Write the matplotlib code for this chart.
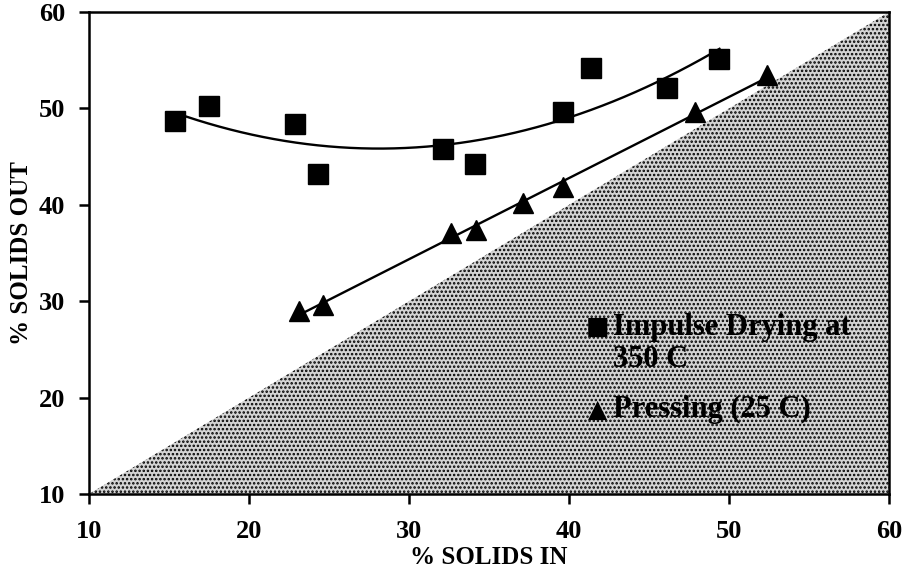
import numpy as np
import matplotlib
matplotlib.use("Agg")
import matplotlib.pyplot as plt

# Data
impulse_x = [15.4, 17.5, 22.9, 24.3, 32.1, 34.1, 39.6, 41.4, 46.1, 49.4]
impulse_y = [48.7, 50.2, 48.4, 43.2, 45.8, 44.2, 49.6, 54.2, 52.1, 55.1]
press_x = [23.1, 24.6, 32.6, 34.2, 37.1, 39.6, 47.9, 52.4]
press_y = [29.0, 29.6, 37.1, 37.4, 40.2, 41.8, 49.6, 53.5]
xticks = [10, 20, 30, 40, 50, 60]
yticks = [10, 20, 30, 40, 50, 60]

serif = ["Liberation Serif", "DejaVu Serif"]
plt.rcParams["font.family"] = serif
plt.rcParams["font.weight"] = "bold"
plt.rcParams["hatch.linewidth"] = 1.2
plt.rcParams["hatch.color"] = "black"

fig = plt.figure(figsize=(9.03, 5.79), dpi=100)
ax = fig.add_axes([0.0986, 0.1468, 0.886, 0.8325])
ax.set_xlim(10, 60)
ax.set_ylim(10, 60)

# shaded region below the y = x line
diag = np.array([10, 60])
ax.fill_between(diag, 10, diag, facecolor="#d4d4d4", edgecolor="black",
                hatch="....", linewidth=0, zorder=0)

# quadratic fit through impulse drying data
c2 = np.polyfit(impulse_x, impulse_y, 2)
xs = np.linspace(min(impulse_x), max(impulse_x), 200)
ax.plot(xs, np.polyval(c2, xs), color="black", lw=1.7, zorder=2)

# linear fit through pressing data
c1 = np.polyfit(press_x, press_y, 1)
xl = np.linspace(min(press_x), max(press_x), 50)
ax.plot(xl, np.polyval(c1, xl), color="black", lw=1.7, zorder=2)

ax.plot(impulse_x, impulse_y, "s", color="black", ms=14, zorder=3)
ax.plot(press_x, press_y, "^", color="black", ms=14, zorder=3)

for s in ax.spines.values():
    s.set_linewidth(1.8)
ax.set_xticks(xticks)
ax.set_yticks(yticks)
ax.tick_params(direction="out", length=7, width=1.8, labelsize=19)
ax.tick_params(axis="x", pad=12)
ax.tick_params(axis="y", pad=10)
for lab in ax.get_xticklabels() + ax.get_yticklabels():
    lab.set_fontweight("bold")

ax.set_xlabel("% SOLIDS IN", fontsize=18, fontweight="bold", labelpad=2)
ax.set_ylabel("% SOLIDS OUT", fontsize=18, fontweight="bold", labelpad=4)

fam = ["Liberation Serif", "DejaVu Sans"]
ax.text(41.8, 26.6, "■", fontsize=18, family="DejaVu Sans", ha="center", va="baseline")
ax.text(42.75, 26.5, "Impulse Drying at", fontsize=22, fontweight="bold",
        family=fam, ha="left", va="baseline")
ax.text(42.75, 23.2, "350 C", fontsize=22, fontweight="bold",
        family=fam, ha="left", va="baseline")
ax.text(41.8, 18.0, "▲", fontsize=18, family="DejaVu Sans", ha="center", va="baseline")
ax.text(42.75, 18.0, "Pressing (25 C)", fontsize=22, fontweight="bold",
        family=fam, ha="left", va="baseline")

fig.savefig("out.png", dpi=100)
